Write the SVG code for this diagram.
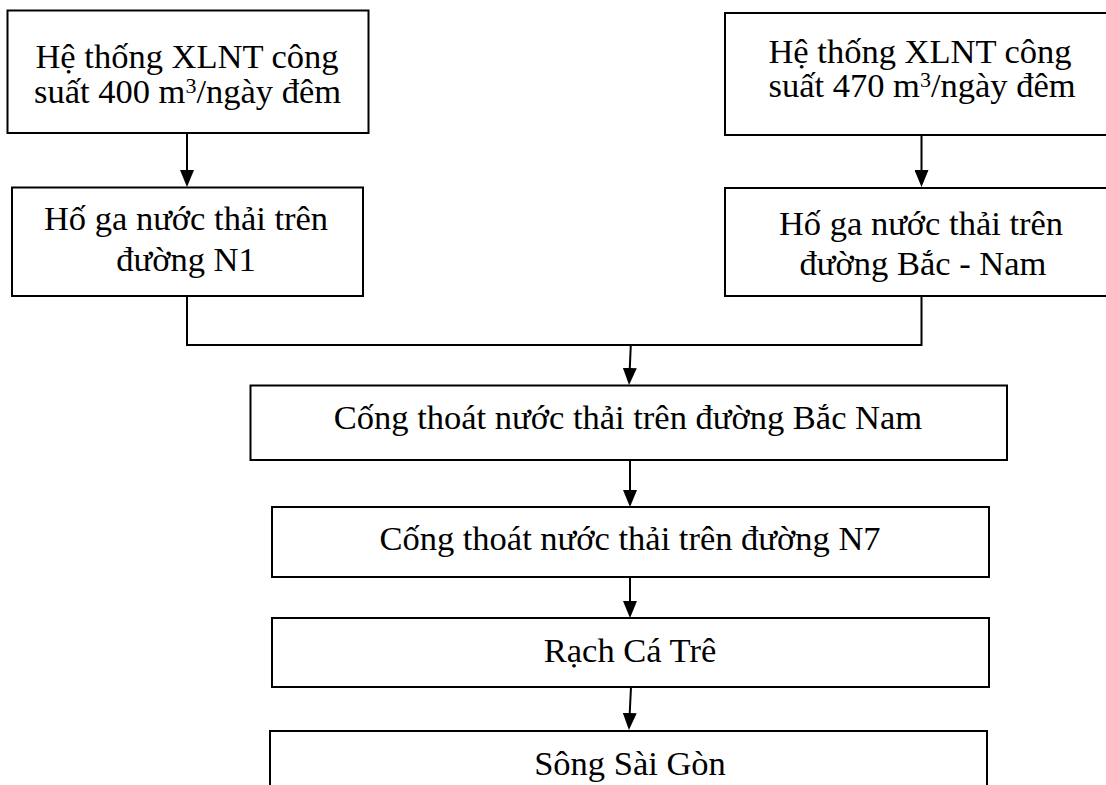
<svg xmlns="http://www.w3.org/2000/svg" width="1106" height="785" viewBox="0 0 1106 785">
  <style>
    .box { fill: #ffffff; stroke: #000000; stroke-width: 2; }
    .lbl { font-family: "Liberation Serif", "Times New Roman", serif; font-size: 34.5px; fill: #000000; text-anchor: middle; }
    .sup { font-size: 22px; }
    .wire { fill: none; stroke: #000000; stroke-width: 2; }
    .flow { fill: none; stroke: #000000; stroke-width: 2; marker-end: url(#head); }
  </style>
  <defs>
    <marker id="head" viewBox="0 0 17 14" refX="9" refY="7" markerWidth="17" markerHeight="14" markerUnits="userSpaceOnUse" orient="auto">
      <path d="M0,0 L17,7 L0,14 z" fill="#000000"/>
    </marker>
  </defs>
  <rect width="1106" height="785" fill="#ffffff"/>

  <!-- connectors -->
  <g id="connectors">
    <path class="flow" d="M187,133 L187,179"/>
    <path class="flow" d="M921.5,135 L921.5,179"/>
    <path class="wire" d="M187,296 L187,345 L921.5,345 L921.5,296"/>
    <path class="flow" d="M630.8,345 L629.4,377"/>
    <path class="flow" d="M630,460 L630,499"/>
    <path class="flow" d="M630,577 L630,610"/>
    <path class="flow" d="M631,687 L629.3,722"/>
  </g>

  <!-- treatment plant 400 m3/day -->
  <g id="plant400">
    <rect class="box" x="7.5" y="10.5" width="361" height="122.5"/>
    <text class="lbl" x="187" y="68">Hệ thống XLNT công</text>
    <text class="lbl" x="187.5" y="102.7">suất 400 m<tspan class="sup" dy="-10">3</tspan><tspan dy="10">/ngày đêm</tspan></text>
  </g>

  <!-- treatment plant 470 m3/day -->
  <g id="plant470">
    <rect class="box" x="725" y="13" width="385" height="122"/>
    <text class="lbl" x="920" y="63.3">Hệ thống XLNT công</text>
    <text class="lbl" x="922" y="97.3">suất 470 m<tspan class="sup" dy="-10">3</tspan><tspan dy="10">/ngày đêm</tspan></text>
  </g>

  <!-- manhole on N1 -->
  <g id="manholeN1">
    <rect class="box" x="12" y="187.5" width="351" height="108.5"/>
    <text class="lbl" x="186" y="230">Hố ga nước thải trên</text>
    <text class="lbl" x="186" y="270.5">đường N1</text>
  </g>

  <!-- manhole on Bac - Nam -->
  <g id="manholeBacNam">
    <rect class="box" x="725" y="188" width="385" height="108"/>
    <text class="lbl" x="921" y="235">Hố ga nước thải trên</text>
    <text class="lbl" x="923" y="275">đường Bắc - Nam</text>
  </g>

  <!-- culvert on Bac Nam -->
  <g id="culvertBacNam">
    <rect class="box" x="250.5" y="385.5" width="756.5" height="74.5"/>
    <text class="lbl" x="628" y="429">Cống thoát nước thải trên đường Bắc Nam</text>
  </g>

  <!-- culvert on N7 -->
  <g id="culvertN7">
    <rect class="box" x="272" y="507" width="717" height="70"/>
    <text class="lbl" x="630" y="550">Cống thoát nước thải trên đường N7</text>
  </g>

  <!-- Ca Tre canal -->
  <g id="rachCaTre">
    <rect class="box" x="272" y="618" width="717" height="69"/>
    <text class="lbl" x="630" y="662">Rạch Cá Trê</text>
  </g>

  <!-- Saigon river -->
  <g id="songSaiGon">
    <rect class="box" x="270" y="731" width="717" height="70"/>
    <text class="lbl" x="630" y="775">Sông Sài Gòn</text>
  </g>
</svg>
